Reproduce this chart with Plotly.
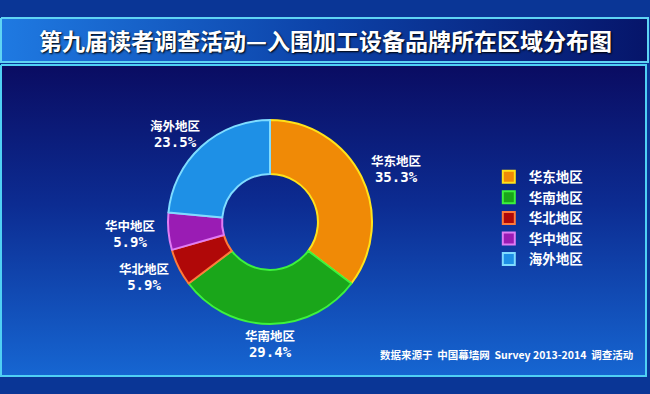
import math
import plotly.graph_objects as go

# ---- data ----
regions = ["华东地区", "华南地区", "华北地区", "华中地区", "海外地区"]
shares = [35.3, 29.4, 5.9, 5.9, 23.5]
fill_colors = ["#f08a06", "#1aa61a", "#b00808", "#9a1cb4", "#1e90e6"]
edge_colors = ["#ffe21a", "#3df23d", "#ff7a3a", "#e07cf4", "#7fdcff"]

title_text = "第九届读者调查活动—入围加工设备品牌所在区域分布图"
source_text = "数据来源于  中国幕墙网  Survey 2013-2014  调查活动"

W, H = 650, 394
CJK = "Noto Sans CJK SC"

# donut geometry (pixels; the hidden axes map 1 unit = 1 pixel)
CX, CY, R = 270, 222, 102
LABEL_R = 110          # where labels start, outside the ring
LBL_W, LBL_H = 62, 22  # approximate size of a two-line label block

fig = go.Figure()

# title band (horizontal gradient)
fig.add_trace(go.Scatter(
    x=[1, 648, 648, 1, 1], y=[18, 18, 62, 62, 18],
    mode="lines", fill="toself",
    line=dict(color="#5fd4f4", width=2),
    fillgradient=dict(type="horizontal", start=0, stop=648,
                      colorscale=[[0, "#1f7ae2"], [0.5, "#0c42a8"], [1, "#06156a"]]),
    hoverinfo="skip", showlegend=False))

# main panel (vertical gradient)
fig.add_trace(go.Scatter(
    x=[1, 646, 646, 1, 1], y=[65, 65, 376, 376, 65],
    mode="lines", fill="toself",
    line=dict(color="#4fd0f4", width=2),
    fillgradient=dict(type="vertical", start=65, stop=376,
                      colorscale=[[0, "#0a0c62"], [0.45, "#0c2c92"], [1, "#1666d2"]]),
    hoverinfo="skip", showlegend=False))

# the donut
fig.add_trace(go.Pie(
    labels=regions, values=shares,
    sort=False, direction="clockwise", rotation=0,
    hole=0.47,
    marker=dict(colors=fill_colors, line=dict(color=edge_colors, width=2)),
    textinfo="none",
    domain=dict(x=[(CX - R) / W, (CX + R) / W],
                y=[(H - CY - R) / H, (H - CY + R) / H]),
    hoverinfo="label+percent",
))

# outside labels, placed at each slice's mid-angle (derived from the data)
annotations = []
total = sum(shares)
cum = 0.0
for name, v in zip(regions, shares):
    mid = (cum + v / 2) / total * 2 * math.pi  # clockwise from 12 o'clock
    cum += v
    s, c = math.sin(mid), math.cos(mid)
    px = CX + LABEL_R * s + s * LBL_W / 2
    py = CY - LABEL_R * c - c * LBL_H / 2
    annotations.append(dict(
        x=px, y=py, xref="x", yref="y", showarrow=False,
        xanchor="center", yanchor="middle", align="center",
        text=f"<b>{name}</b><br><span style=\"font-family:'DejaVu Sans Mono';font-size:14px\"><b>{v:.1f}%</b></span>",
        font=dict(family=CJK, size=12.5, color="white"),
    ))

annotations += [
    dict(text="<b>" + title_text + "</b>", x=0.5, y=1 - 40 / H,
         xref="paper", yref="paper", xanchor="center", yanchor="middle",
         showarrow=False,
         font=dict(family=CJK, size=23, color="white",
                   shadow="1px 1px 2px #000")),
    dict(text="<b>" + source_text + "</b>", x=1 - 15 / W, y=1 - 354 / H,
         xref="paper", yref="paper", xanchor="right", yanchor="middle",
         showarrow=False,
         font=dict(family=CJK, size=10.5, color="white")),
]

fig.update_layout(
    width=W, height=H,
    margin=dict(l=0, r=0, t=0, b=0, autoexpand=False),
    paper_bgcolor="#0a3696",
    plot_bgcolor="rgba(0,0,0,0)",
    xaxis=dict(range=[0, W], visible=False, fixedrange=True, automargin=False),
    yaxis=dict(range=[H, 0], visible=False, fixedrange=True, automargin=False),
    showlegend=True,
    legend=dict(x=0.752, y=0.59, xanchor="left", yanchor="top",
                font=dict(family=CJK, size=13.5, color="white", weight="bold"),
                bgcolor="rgba(0,0,0,0)", itemwidth=30, tracegroupgap=0),
    annotations=annotations,
)

fig.write_html("out.html")
